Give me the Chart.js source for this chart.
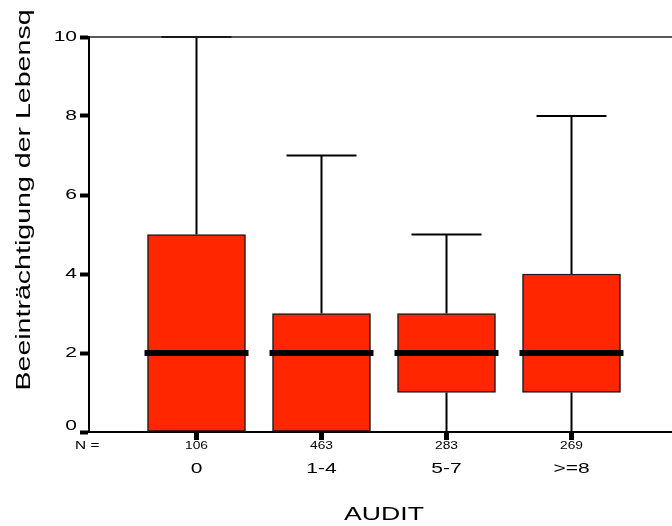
<!DOCTYPE html>
<html lang="de">
<head>
    <meta charset="UTF-8">
    <title>AUDIT Boxplot</title>
    <style>
        body {
            margin: 0;
            background: #fff;
            overflow: hidden;
        }
        #chart {
            display: block;
        }
    </style>
</head>
<body>
    <canvas id="chart" width="672" height="526"></canvas>
    <script src="https://cdn.jsdelivr.net/npm/chart.js"></script>
    <script>
        // Boxplot values per AUDIT group
        const categories = ['0', '1-4', '5-7', '>=8'];
        const counts = [106, 463, 283, 269];
        const whiskerLow = [0, 0, 0, 0];
        const q1 = [0, 0, 1, 1];
        const medians = [2, 2, 2, 2];
        const q3 = [5, 3, 3, 4];
        const whiskerHigh = [10, 7, 5, 8];
        const yTicks = [0, 2, 4, 6, 8, 10];

        const FONT = '"Liberation Sans", Arial, sans-serif';

        // text is drawn wide, like the SPSS output
        function wideText(ctx, text, x, y, size, align, stretch, rotate) {
            ctx.save();
            ctx.translate(x, y);
            if (rotate) ctx.rotate(-Math.PI / 2);
            ctx.scale(stretch, 1);
            ctx.font = size + 'px ' + FONT;
            ctx.fillStyle = '#000';
            ctx.textAlign = align;
            ctx.textBaseline = rotate ? 'alphabetic' : 'middle';
            ctx.fillText(text, 0, 0);
            ctx.restore();
        }

        // whiskers under the boxes, medians on top
        const boxParts = {
            id: 'boxParts',
            beforeDatasetsDraw(chart) {
                const ctx = chart.ctx;
                const xs = chart.scales.x, ys = chart.scales.y;
                ctx.save();
                ctx.strokeStyle = '#000';
                ctx.lineWidth = 2;
                categories.forEach((c, i) => {
                    const x = xs.getPixelForValue(i + 1);
                    ctx.beginPath();
                    ctx.moveTo(x, ys.getPixelForValue(q3[i]));
                    ctx.lineTo(x, ys.getPixelForValue(whiskerHigh[i]));
                    ctx.moveTo(x, ys.getPixelForValue(q1[i]));
                    ctx.lineTo(x, ys.getPixelForValue(whiskerLow[i]));
                    ctx.moveTo(x - 35, ys.getPixelForValue(whiskerHigh[i]));
                    ctx.lineTo(x + 35, ys.getPixelForValue(whiskerHigh[i]));
                    ctx.stroke();
                });
                ctx.restore();
            },
            afterDatasetsDraw(chart) {
                const ctx = chart.ctx;
                const xs = chart.scales.x, ys = chart.scales.y;
                ctx.save();
                ctx.strokeStyle = '#000';
                ctx.lineWidth = 6;
                categories.forEach((c, i) => {
                    const x = xs.getPixelForValue(i + 1);
                    const y = ys.getPixelForValue(medians[i]);
                    ctx.beginPath();
                    ctx.moveTo(x - 52, y);
                    ctx.lineTo(x + 52, y);
                    ctx.stroke();
                });
                ctx.restore();
            },
            afterDraw(chart) {
                const ctx = chart.ctx;
                const area = chart.chartArea;
                const xs = chart.scales.x, ys = chart.scales.y;
                // top frame line
                ctx.save();
                ctx.strokeStyle = '#222';
                ctx.lineWidth = 1.5;
                ctx.beginPath();
                ctx.moveTo(area.left, area.top);
                ctx.lineTo(area.right, area.top);
                ctx.stroke();
                ctx.restore();

                yTicks.forEach(v => {
                    const y = ys.getPixelForValue(v) - (v === 0 ? 6 : 0);
                    wideText(ctx, String(v), area.left - 12, y, 15, 'right', 1.4);
                });
                wideText(ctx, 'N =', 75, 446, 11, 'left', 1.4);
                categories.forEach((c, i) => {
                    const x = xs.getPixelForValue(i + 1);
                    wideText(ctx, String(counts[i]), x, 446, 11, 'center', 1.25);
                    wideText(ctx, c, x, 469, 15, 'center', 1.4);
                });
                wideText(ctx, 'AUDIT', 384, 515, 19, 'center', 1.4);
                wideText(ctx, 'Beeinträchtigung der Lebensq', 30, 200, 21, 'center', 1.36, true);
            }
        };

        const ctx = document.getElementById('chart').getContext('2d');
        const myChart = new Chart(ctx, {
            type: 'bar',
            data: {
                datasets: [{
                    data: categories.map((c, i) => ({ x: i + 1, y: [q1[i], q3[i]] })),
                    backgroundColor: '#ff2600',
                    borderColor: '#1a1a1a',
                    borderWidth: 1.5,
                    borderSkipped: false,
                    barThickness: 98
                }]
            },
            options: {
                responsive: false,
                animation: false,
                layout: {
                    padding: { left: 80, top: 37, right: 0, bottom: 86 }
                },
                plugins: {
                    legend: { display: false },
                    tooltip: { enabled: false }
                },
                scales: {
                    x: {
                        type: 'linear',
                        offset: false,
                        min: 0.14,
                        max: 4.804,
                        afterBuildTicks: scale => {
                            scale.ticks = categories.map((c, i) => ({ value: i + 1 }));
                        },
                        ticks: { display: false },
                        grid: {
                            offset: false,
                            drawOnChartArea: false,
                            tickLength: 8,
                            tickWidth: 5,
                            tickColor: '#000'
                        },
                        border: { color: '#000', width: 2 }
                    },
                    y: {
                        min: 0,
                        max: 10,
                        afterBuildTicks: scale => {
                            scale.ticks = yTicks.map(v => ({ value: v }));
                        },
                        ticks: { display: false },
                        grid: {
                            drawOnChartArea: false,
                            tickLength: 9,
                            tickWidth: 4,
                            tickColor: '#000'
                        },
                        border: { color: '#000', width: 2 }
                    }
                }
            },
            plugins: [boxParts]
        });
    </script>
</body>
</html>
